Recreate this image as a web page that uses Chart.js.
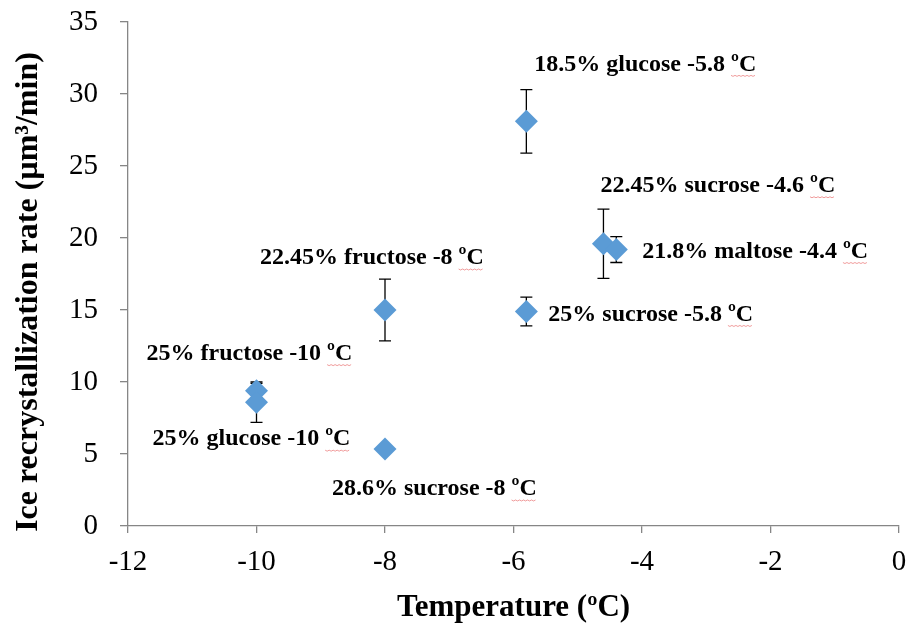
<!DOCTYPE html>
<html>
<head>
<meta charset="utf-8">
<script src="https://cdn.jsdelivr.net/npm/chart.js@4.4.1/dist/chart.umd.min.js"></script>
<style>
  html, body { margin: 0; padding: 0; background: #fff; }
  #wrap { width: 911px; height: 629px; }
</style>
</head>
<body>
<div id="wrap"><canvas id="chart"></canvas></div>
<script>
// samples: solution, freezing temperature and recrystallization rate
const sampleNames = [
  "18.5% glucose -5.8 ºC",
  "22.45% sucrose -4.6 ºC",
  "21.8% maltose -4.4 ºC",
  "25% sucrose -5.8 ºC",
  "22.45% fructose -8 ºC",
  "25% fructose -10 ºC",
  "25% glucose -10 ºC",
  "28.6% sucrose -8 ºC"
];
const temperatures = [-5.8, -4.6, -4.4, -5.8, -8, -10, -10, -8];
const rates = [28.1, 19.6, 19.2, 14.9, 15.0, 9.4, 8.6, 5.35];
const rateErrors = [2.2, 2.4, 0.9, 1.0, 2.15, 0.5, 1.4, 0.2];

const xTicks = [-12, -10, -8, -6, -4, -2, 0];
const yTicks = [0, 5, 10, 15, 20, 25, 30, 35];

const yTitle = "Ice recrystallization rate (µm³/min)";

// where each annotation sits relative to its marker (px)
const labelOffsets = [
  [8, -57], [-3, -58], [26, 2], [22, 3],
  [-125, -52], [-110, -37], [-104, 37], [-53, 40]
];

const serif = "'Liberation Serif', 'Times New Roman', serif";

const errorBars = {
  id: "errorBars",
  beforeDatasetsDraw(chart) {
    const { ctx, scales: { x, y } } = chart;
    ctx.save();
    ctx.strokeStyle = "#000";
    ctx.lineWidth = 1.3;
    temperatures.forEach((t, i) => {
      const px = x.getPixelForValue(t);
      const top = y.getPixelForValue(rates[i] + rateErrors[i]);
      const bot = y.getPixelForValue(rates[i] - rateErrors[i]);
      ctx.beginPath();
      ctx.moveTo(px, top); ctx.lineTo(px, bot);
      ctx.moveTo(px - 6, top); ctx.lineTo(px + 6, top);
      ctx.moveTo(px - 6, bot); ctx.lineTo(px + 6, bot);
      ctx.stroke();
    });
    ctx.restore();
  }
};

const pointLabels = {
  id: "pointLabels",
  afterDatasetsDraw(chart) {
    const { ctx, scales: { x, y } } = chart;
    ctx.save();
    ctx.font = "bold 24px " + serif;
    ctx.fillStyle = "#000";
    ctx.textBaseline = "middle";
    ctx.textAlign = "left";
    sampleNames.forEach((name, i) => {
      const lx = x.getPixelForValue(temperatures[i]) + labelOffsets[i][0];
      const ly = y.getPixelForValue(rates[i]) + labelOffsets[i][1];
      ctx.fillText(name, lx, ly);
      // spell-check squiggle under the unit
      const unitStart = lx + ctx.measureText(name.slice(0, -2)).width;
      const unitEnd = lx + ctx.measureText(name).width;
      ctx.strokeStyle = "rgba(230, 90, 90, 0.6)";
      ctx.lineWidth = 1;
      ctx.beginPath();
      for (let sx = unitStart; sx <= unitEnd; sx += 2) {
        const sy = ly + 11 + ((Math.round((sx - unitStart) / 2) % 2) ? 1 : 0);
        if (sx === unitStart) ctx.moveTo(sx, sy); else ctx.lineTo(sx, sy);
      }
      ctx.stroke();
    });
    ctx.restore();
  }
};

// vertical axis title, drawn by hand so it can sit a bit below the axis middle
const yAxisTitle = {
  id: "yAxisTitle",
  afterDraw(chart) {
    const { ctx } = chart;
    ctx.save();
    ctx.translate(29, 292);
    ctx.rotate(-Math.PI / 2);
    ctx.font = "bold 32px " + serif;
    ctx.fillStyle = "#000";
    ctx.textAlign = "center";
    ctx.textBaseline = "middle";
    ctx.fillText(yTitle, 0, 0);
    ctx.restore();
  }
};

new Chart(document.getElementById("chart"), {
  type: "scatter",
  data: {
    datasets: [{
      data: temperatures.map((t, i) => ({ x: t, y: rates[i] })),
      pointStyle: "rectRot",
      pointRadius: 11.5,
      pointHoverRadius: 11.5,
      backgroundColor: "#5B9BD5",
      borderColor: "#5B9BD5",
      borderWidth: 0
    }]
  },
  options: {
    responsive: true,
    maintainAspectRatio: false,
    animation: false,
    layout: { padding: { top: 22, right: 12, left: 0, bottom: 0 } },
    plugins: { legend: { display: false }, tooltip: { enabled: false } },
    scales: {
      x: {
        type: "linear",
        min: -12,
        max: 0,
        afterBuildTicks: (axis) => { axis.ticks = xTicks.map(v => ({ value: v })); },
        afterFit: (axis) => {
          axis.height = 103;
          axis.paddingLeft = 0;
          axis.paddingRight = 0;
        },
        border: { color: "#868686", width: 1.3 },
        grid: { drawOnChartArea: false, tickLength: 7, color: "#868686", lineWidth: 1.3 },
        ticks: { color: "#000", padding: 12, font: { family: serif, size: 29 } },
        title: {
          display: true,
          text: "Temperature (ºC)",
          color: "#000",
          padding: { top: 0, bottom: 2 },
          font: { family: serif, size: 31, weight: "bold" }
        }
      },
      y: {
        type: "linear",
        min: 0,
        max: 35,
        afterBuildTicks: (axis) => { axis.ticks = yTicks.map(v => ({ value: v })); },
        afterFit: (axis) => {
          axis.width = 128;
          axis.paddingTop = 0;
          axis.paddingBottom = 0;
        },
        border: { color: "#868686", width: 1.3 },
        grid: { drawOnChartArea: false, tickLength: 8, color: "#868686", lineWidth: 1.3 },
        ticks: { color: "#000", padding: 22, font: { family: serif, size: 29 } },
        title: { display: false }
      }
    }
  },
  plugins: [errorBars, pointLabels, yAxisTitle]
});
</script>
</body>
</html>
